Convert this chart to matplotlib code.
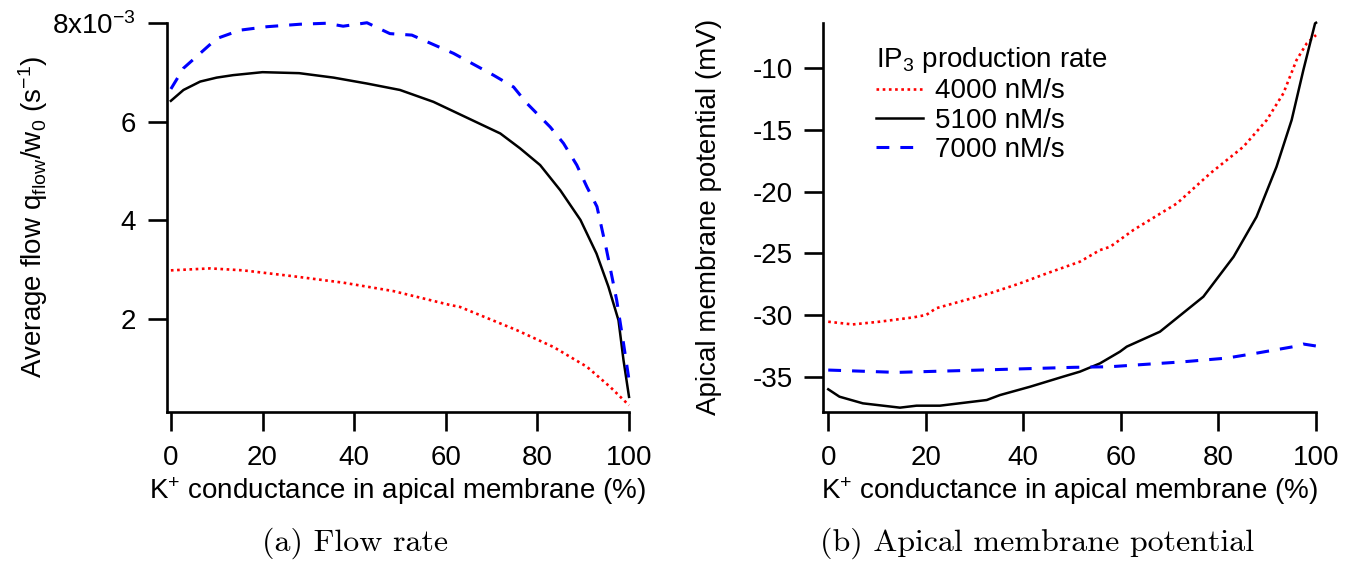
"""
Two-panel figure: average flow and apical membrane potential against the
K+ conductance share in the apical membrane, for three IP3 production rates.
"""

import matplotlib
matplotlib.use("Agg")
import matplotlib.pyplot as plt

plt.rcParams["font.family"] = ["Liberation Sans", "DejaVu Sans"]
plt.rcParams["mathtext.default"] = "regular"
plt.rcParams["axes.unicode_minus"] = False

# IP3 production rates (legend order)
RATES = ["4000 nM/s", "5100 nM/s", "7000 nM/s"]

# (a) average flow, units of 1e-3 s^-1
flow_x_4000 = [0, 8.6, 15.8, 26.8, 37.7, 48.6, 60.9, 63.1, 75.5, 83.5, 90.8, 95.9, 100]
flow_y_4000 = [2.99, 3.03, 2.99, 2.87, 2.74, 2.57, 2.29, 2.25, 1.78, 1.44, 1.04, 0.63, 0.26]

flow_x_5100 = [0, 2.75, 6.4, 10, 13.6, 20, 28, 35.5, 42.8, 50, 57.3, 71.9,
               76.2, 80.6, 85.0, 89.4, 92.9, 95.5, 97.7, 98.8, 100]
flow_y_5100 = [6.42, 6.64, 6.81, 6.89, 6.94, 7.0, 6.98, 6.89, 6.77, 6.64, 6.40,
               5.76, 5.46, 5.12, 4.61, 4.01, 3.33, 2.66, 1.98, 1.17, 0.43]

flow_x_7000 = [0, 2.75, 10, 15.1, 21, 28.2, 34, 37.6, 42.8, 47.8, 52.6, 61.7,
               70.4, 74.8, 77.7, 82.8, 85.7, 88.6, 90.8, 93.0, 95.1, 97.3, 98.8, 100]
flow_y_7000 = [6.66, 7.08, 7.68, 7.85, 7.92, 7.97, 7.99, 7.93, 8.0, 7.78, 7.75,
               7.38, 6.94, 6.70, 6.37, 5.89, 5.56, 5.12, 4.68, 4.28, 3.40, 2.39,
               1.51, 0.77]

# (b) apical membrane potential, mV
pot_x_4000 = [0, 5, 10.5, 17.4, 20.1, 22.1, 27.6, 33.1, 39.3, 44.8, 51.6, 55.7,
              57.8, 62.6, 71.5, 78.3, 85.1, 89.9, 93.3, 96.0, 98.1, 100]
pot_y_4000 = [-30.55, -30.77, -30.55, -30.2, -30.0, -29.46, -28.85, -28.25,
              -27.44, -26.63, -25.68, -24.74, -24.47, -23.1, -20.95, -18.52,
              -16.36, -14.19, -12.03, -9.33, -7.97, -7.3]

pot_x_5100 = [0, 2.3, 7.1, 14.7, 18.1, 22.9, 32.5, 35.2, 41.4, 48.2, 51.6, 55.7,
              59.8, 61.2, 68, 76.9, 83.1, 87.8, 91.9, 95.0, 97.4, 99.8, 100]
pot_y_5100 = [-36.03, -36.63, -37.17, -37.52, -37.36, -37.36, -36.9, -36.5,
              -35.82, -35.0, -34.6, -33.93, -32.98, -32.57, -31.36, -28.52,
              -25.28, -22.04, -17.98, -14.19, -10.14, -6.35, -6.3]

pot_x_7000 = [0, 14, 31.2, 50.2, 57.8, 72.8, 81.7, 87.8, 95.3, 97.4, 100]
pot_y_7000 = [-34.47, -34.66, -34.47, -34.25, -34.2, -33.8, -33.5, -33.1,
              -32.58, -32.36, -32.52]

FLOW_TICKS = [2, 4, 6, 8]
FLOW_TICKLABELS = ["2", "4", "6", "8x10$^{-3}$"]
POT_TICKS = [-35, -30, -25, -20, -15, -10]
X_TICKS = [0, 20, 40, 60, 80, 100]

# (color, linewidth, linestyle) per rate
STYLES = [
    ("#ff0000", 1.9, (0, (1.0, 1.35))),
    ("black",   1.8, "-"),
    ("#0000ff", 2.2, (0, (4.2, 3.6))),
]

FS = 20
XLABEL = "K$^{+}$ conductance in apical membrane (%)"


def style_axes(ax):
    for side in ("top", "right"):
        ax.spines[side].set_visible(False)
    for side in ("left", "bottom"):
        ax.spines[side].set_linewidth(1.9)
    ax.tick_params(direction="out", length=14, width=1.9, labelsize=FS)
    ax.tick_params(axis="x", pad=10)
    ax.tick_params(axis="y", pad=8)
    ax.set_xticks(X_TICKS)
    ax.set_xlabel(XLABEL, fontsize=FS, labelpad=3)


def main():
    fig = plt.figure(figsize=(13.58, 5.63), dpi=100)
    ax1 = fig.add_axes([0.1228, 0.2687, 0.3404, 0.6909])
    ax2 = fig.add_axes([0.6063, 0.2687, 0.3628, 0.6909])

    flows = [(flow_x_4000, flow_y_4000), (flow_x_5100, flow_y_5100),
             (flow_x_7000, flow_y_7000)]
    pots = [(pot_x_4000, pot_y_4000), (pot_x_5100, pot_y_5100),
            (pot_x_7000, pot_y_7000)]

    for (x, y), (c, lw, ls) in zip(flows, STYLES):
        ax1.plot(x, y, color=c, lw=lw, linestyle=ls, clip_on=False)
    for (x, y), (c, lw, ls), lab in zip(pots, STYLES, RATES):
        ax2.plot(x, y, color=c, lw=lw, linestyle=ls, label=lab, clip_on=False)

    style_axes(ax1)
    ax1.set_xlim(-0.9, 100)
    ax1.set_ylim(0.13, 8)
    ax1.set_yticks(FLOW_TICKS)
    ax1.set_yticklabels(FLOW_TICKLABELS)
    ax1.set_ylabel("Average flow q$_{flow}$/w$_0$ (s$^{-1}$)", fontsize=FS, labelpad=2)

    style_axes(ax2)
    ax2.set_xlim(-1.0, 100)
    ax2.set_ylim(-37.85, -6.3)
    ax2.set_yticks(POT_TICKS)
    ax2.set_ylabel("Apical membrane potential (mV)", fontsize=FS, labelpad=22)

    # borderpad also sets the gap between the legend title and its entries
    leg = ax2.legend(loc="upper left", bbox_to_anchor=(0.048, 1.018), frameon=False,
                     fontsize=FS, title="IP$_3$ production rate", title_fontsize=FS,
                     handlelength=1.7, handletextpad=0.4, labelspacing=0.12,
                     borderpad=1.05, borderaxespad=0)
    leg._legend_box.align = "left"

    fig.text(0.2615, 0.0355, "(a) Flow rate", family="cmr10", fontsize=23,
             ha="center", va="center")
    fig.text(0.7635, 0.0355, "(b) Apical membrane potential", family="cmr10",
             fontsize=23, ha="center", va="center")

    fig.savefig("out.png", dpi=100)
    plt.close(fig)


if __name__ == "__main__":
    main()
